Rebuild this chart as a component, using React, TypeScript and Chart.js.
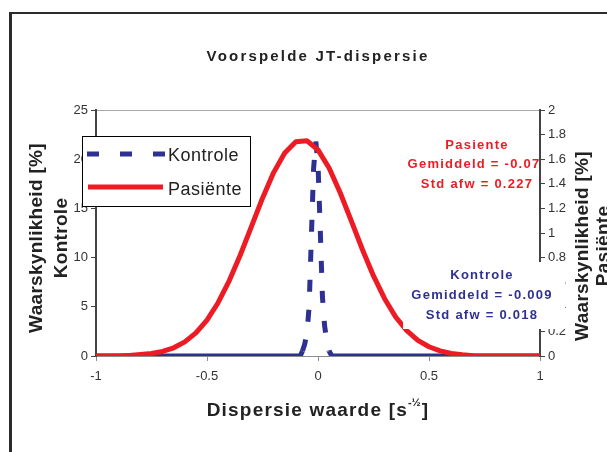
import React, { useEffect, useRef } from 'react';
import { Chart, registerables } from 'chart.js';

Chart.register(...registerables);

const FONT = '"Liberation Sans", Arial, Helvetica, sans-serif';
const RED = '#ed1c24';
const BLUE = '#2e3192';
const TEXT = '#222222';

const chartTitle = 'Voorspelde JT-dispersie';
const xTitleMain = 'Dispersie waarde [s';
const xTitleSup = '-½';
const xTitleEnd = ']';
const yLeftTitle = ['Waarskynlikheid [%]', 'Kontrole'];
const yRightTitle = ['Waarskynlikheid [%]', 'Pasiënte'];
const seriesNames = ['Kontrole', 'Pasiënte'];
const pasienteNote = ['Pasiente', 'Gemiddeld = -0.07', 'Std afw = 0.227'];
const kontroleNote = ['Kontrole', 'Gemiddeld = -0.009', 'Std afw = 0.018'];

const xMin = -1;
const xMax = 1;
const xStep = 0.5;
const yLeftMax = 25;
const yLeftStep = 5;
const yRightMax = 2;
const yRightStep = 0.2;

const kontroleX = [-1, -0.08, -0.07, -0.06, -0.05, -0.04, -0.03, -0.02, -0.01, 0, 0.01, 0.02, 0.03, 0.04, 0.05, 0.06, 0.07, 1];
const kontroleY = [0, 0, 0.5, 1.2, 2.3, 5.0, 12.0, 19.0, 21.8, 19.5, 13.0, 6.0, 3.0, 1.5, 0.5, 0.1, 0, 0];

const pasienteX = [-1, -0.95, -0.9, -0.85, -0.8, -0.75, -0.7, -0.65, -0.6, -0.55, -0.5, -0.45, -0.4, -0.35, -0.3, -0.25, -0.2, -0.15, -0.1, -0.05, 0, 0.05, 0.1, 0.15, 0.2, 0.25, 0.3, 0.35, 0.4, 0.45, 0.5, 0.55, 0.6, 0.65, 0.7, 0.75, 0.8, 0.85, 0.9, 0.95, 1];
const pasienteY = [0, 0, 0, 0.005, 0.012, 0.02, 0.037, 0.067, 0.115, 0.188, 0.292, 0.433, 0.611, 0.821, 1.052, 1.283, 1.491, 1.651, 1.742, 1.75, 1.676, 1.528, 1.327, 1.099, 0.866, 0.651, 0.466, 0.317, 0.206, 0.127, 0.075, 0.042, 0.02, 0.01, 0.003, 0, 0, 0, 0, 0, 0];

function drawText(ctx: CanvasRenderingContext2D, text: string, x: number, y: number, font: string, color: string, spacing: number, align: CanvasTextAlign) {
  ctx.font = font;
  ctx.fillStyle = color;
  (ctx as any).letterSpacing = spacing + 'px';
  ctx.textAlign = align;
  ctx.textBaseline = 'middle';
  ctx.fillText(text, x, y);
  (ctx as any).letterSpacing = '0px';
}

const decorPlugin = {
  id: 'decor',
  beforeDraw(chart: any) {
    const ctx: CanvasRenderingContext2D = chart.ctx;
    const w = chart.width;
    const h = chart.height;
    const a = chart.chartArea;
    ctx.save();
    ctx.fillStyle = '#ffffff';
    ctx.fillRect(0, 0, w, h);
    ctx.fillStyle = '#2b2b2b';
    ctx.fillRect(9, 12, 3, h - 12);
    ctx.fillRect(9, 12, w - 9, 2);
    ctx.strokeStyle = '#a8a8a8';
    ctx.lineWidth = 1;
    ctx.beginPath();
    ctx.moveTo(a.left, a.top + 0.5);
    ctx.lineTo(a.right, a.top + 0.5);
    ctx.stroke();
    ctx.restore();
  },
  afterDraw(chart: any) {
    const ctx: CanvasRenderingContext2D = chart.ctx;
    const a = chart.chartArea;
    ctx.save();

    // Pasiënte annotation (clipped by plot area)
    ctx.save();
    ctx.beginPath();
    ctx.rect(a.left, a.top, a.right - a.left - 1, a.bottom - a.top);
    ctx.clip();
    const noteFont = `bold 13px ${FONT}`;
    const redX = [477, 474, 477];
    pasienteNote.forEach((t, i) => drawText(ctx, t, redX[i], 145 + i * 19.5, noteFont, RED, 1.25, 'center'));
    ctx.restore();

    // Kontrole annotation with white box
    ctx.fillStyle = '#ffffff';
    ctx.fillRect(403, 262, 162, 67);
    kontroleNote.forEach((t, i) => drawText(ctx, t, 482, 275 + i * 20, noteFont, BLUE, 1.25, 'center'));

    // Legend
    ctx.fillStyle = '#ffffff';
    ctx.fillRect(82, 136, 169, 71);
    ctx.strokeStyle = '#000000';
    ctx.lineWidth = 1;
    ctx.strokeRect(82.5, 136.5, 168, 70);
    ctx.lineCap = 'butt';
    ctx.lineWidth = 5;
    ctx.strokeStyle = BLUE;
    ctx.setLineDash([12, 21]);
    ctx.beginPath();
    ctx.moveTo(87, 154);
    ctx.lineTo(165, 154);
    ctx.stroke();
    ctx.setLineDash([]);
    ctx.strokeStyle = RED;
    ctx.beginPath();
    ctx.moveTo(88, 187);
    ctx.lineTo(163, 187);
    ctx.stroke();
    const legFont = `18px ${FONT}`;
    drawText(ctx, seriesNames[0], 168, 156, legFont, TEXT, 0.5, 'left');
    drawText(ctx, seriesNames[1], 168, 190, legFont, TEXT, 0.5, 'left');

    // Title
    drawText(ctx, chartTitle, 318, 57, `bold 15px ${FONT}`, TEXT, 2.2, 'center');

    // X title with superscript
    const mainFont = `bold 19px ${FONT}`;
    const supFont = `bold 11px ${FONT}`;
    const sp = 1.2;
    ctx.font = mainFont;
    (ctx as any).letterSpacing = sp + 'px';
    const w1 = ctx.measureText(xTitleMain).width;
    const w3 = ctx.measureText(xTitleEnd).width;
    ctx.font = supFont;
    (ctx as any).letterSpacing = '0px';
    const w2 = ctx.measureText(xTitleSup).width + 1;
    const total = w1 + w2 + w3;
    const x0 = 318 - total / 2;
    drawText(ctx, xTitleMain, x0, 411, mainFont, TEXT, sp, 'left');
    drawText(ctx, xTitleSup, x0 + w1, 403, supFont, TEXT, 0, 'left');
    drawText(ctx, xTitleEnd, x0 + w1 + w2, 411, mainFont, TEXT, sp, 'left');

    // Y titles
    const yFont = `bold 19px ${FONT}`;
    const drawRot = (lines: string[], xs: number[], cy: number) => {
      lines.forEach((t, i) => {
        ctx.save();
        ctx.translate(xs[i], cy);
        ctx.rotate(-Math.PI / 2);
        drawText(ctx, t, 0, 0, yFont, TEXT, 0.3, 'center');
        ctx.restore();
      });
    };
    drawRot(yLeftTitle, [37, 62], 238);
    drawRot(yRightTitle, [583, 604], 246);

    ctx.restore();
  },
};

export default function App() {
  const ref = useRef<HTMLCanvasElement>(null);
  useEffect(() => {
    const canvas = ref.current!;
    const tickFont = { family: FONT, size: 13 };
    const chart = new Chart(canvas, {
      type: 'line',
      data: {
        datasets: [
          {
            label: seriesNames[1],
            data: pasienteX.map((x, i) => ({ x, y: pasienteY[i] })),
            yAxisID: 'y2',
            borderColor: RED,
            backgroundColor: RED,
            borderWidth: 5,
            pointRadius: 0,
            tension: 0,
            fill: false,
            borderJoinStyle: 'round',
            borderCapStyle: 'butt',
          },
          {
            label: seriesNames[0],
            data: kontroleX.map((x, i) => ({ x, y: kontroleY[i] })),
            yAxisID: 'y',
            borderColor: BLUE,
            backgroundColor: BLUE,
            borderWidth: 5,
            pointRadius: 0,
            tension: 0,
            fill: false,
            borderJoinStyle: 'bevel',
            borderCapStyle: 'butt',
            segment: {
              borderDash: (c: any) => (Math.max(c.p0.parsed.y, c.p1.parsed.y) >= 1 ? [12, 18] : undefined),
            },
          },
        ],
      } as any,
      options: {
        responsive: false,
        animation: false,
        devicePixelRatio: 1,
        layout: { padding: { top: 110, left: 0, right: 0, bottom: 0 } },
        plugins: {
          legend: { display: false },
          title: { display: false },
          tooltip: { enabled: false },
        },
        scales: {
          x: {
            type: 'linear',
            min: xMin,
            max: xMax,
            ticks: { stepSize: xStep, callback: (v: any) => String(v), font: tickFont, color: '#333', padding: 8, maxRotation: 0 },
            grid: { drawOnChartArea: false, tickLength: 5, color: '#8c8c8c' },
            border: { color: '#8c8c8c', width: 1 },
            afterFit: (s: any) => { s.height = 96; },
          },
          y: {
            position: 'left',
            min: 0,
            max: yLeftMax,
            ticks: { stepSize: yLeftStep, callback: (v: any) => String(v), font: tickFont, color: '#333', padding: 3 },
            grid: { drawOnChartArea: false, tickLength: 5, color: '#444' },
            border: { color: '#444', width: 2 },
            afterFit: (s: any) => { s.width = 96; },
          },
          y2: {
            position: 'right',
            min: 0,
            max: yRightMax,
            ticks: { stepSize: yRightStep, callback: (v: any) => String(Math.round(v * 10) / 10), font: tickFont, color: '#333', padding: 3 },
            grid: { drawOnChartArea: false, tickLength: 5, color: '#444' },
            border: { color: '#444', width: 2 },
            afterFit: (s: any) => { s.width = 67; },
          },
        },
      } as any,
      plugins: [decorPlugin],
    });
    return () => chart.destroy();
  }, []);
  return (
    <div style={{ position: 'fixed', left: 0, top: 0, width: 607, height: 452, background: '#fff', overflow: 'hidden' }}>
      <canvas ref={ref} width={607} height={452} style={{ display: 'block', width: 607, height: 452 }} />
    </div>
  );
}
